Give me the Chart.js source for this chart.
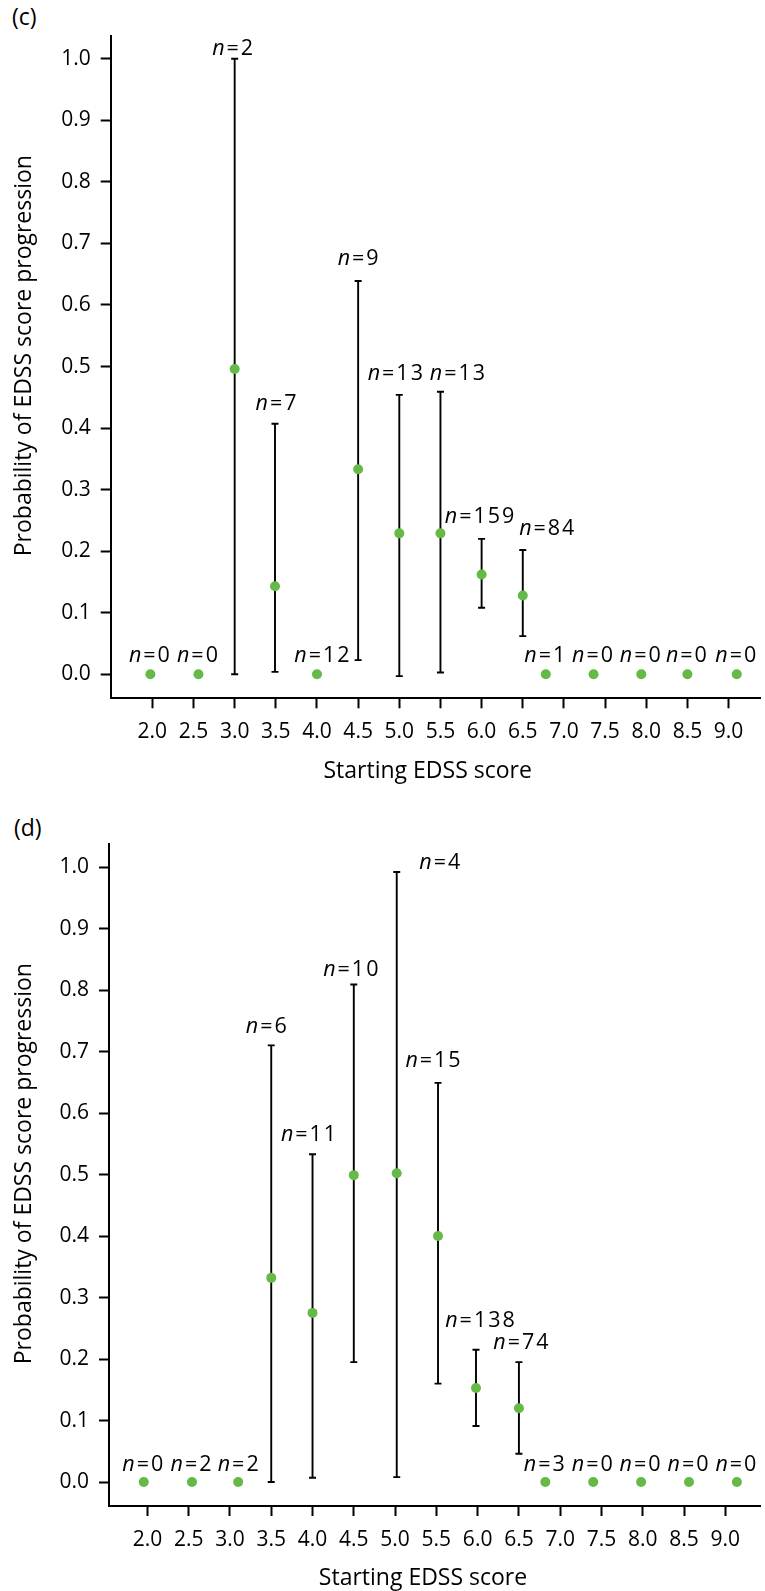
<!DOCTYPE html>
<html>
<head>
<meta charset="utf-8">
<script src="https://cdn.jsdelivr.net/npm/chart.js@4.4.1/dist/chart.umd.min.js"></script>
<style>
  html, body { margin: 0; padding: 0; background: #fff; }
  body { width: 765px; height: 1591px; overflow: hidden; position: relative; font-family: 'Open Sans', sans-serif; }
  canvas { position: absolute; left: 0; }
  #chartC { top: 0; }
  #chartD { top: 800px; }
  .panel { position: absolute; font-size: 23px; line-height: 23px; color: #000; }
</style>
</head>
<body>
<div class="panel" style="left:12px;top:5px">(c)</div>
<div class="panel" style="left:14px;top:816px">(d)</div>
<canvas id="chartC" width="765" height="800"></canvas>
<canvas id="chartD" width="765" height="800"></canvas>
<script>
// Marcas de los ejes
const xTicks = [2.0, 2.5, 3.0, 3.5, 4.0, 4.5, 5.0, 5.5, 6.0, 6.5, 7.0, 7.5, 8.0, 8.5, 9.0];
const yTicks = [0.0, 0.1, 0.2, 0.3, 0.4, 0.5, 0.6, 0.7, 0.8, 0.9, 1.0];

// Panel (c): posición de cada punto, probabilidad, IC y n
const xC = [1.976, 2.56, 3.0, 3.49, 4.0, 4.5, 5.0, 5.5, 6.0, 6.5, 6.78, 7.36, 7.94, 8.5, 9.1];
const probC = [0, 0, 0.496, 0.143, 0, 0.333, 0.229, 0.229, 0.162, 0.128, 0, 0, 0, 0, 0];
const loC = [null, null, 0, 0.004, null, 0.023, -0.003, 0.003, 0.108, 0.062, null, null, null, null, null];
const hiC = [null, null, 1.0, 0.407, null, 0.639, 0.454, 0.459, 0.22, 0.202, null, null, null, null, null];
const nC = [0, 0, 2, 7, 12, 9, 13, 13, 159, 84, 1, 0, 0, 0, 0];

// Panel (d)
const xD = [1.956, 2.54, 3.1, 3.5, 4.0, 4.5, 5.02, 5.52, 5.98, 6.5, 6.82, 7.4, 7.98, 8.56, 9.14];
const probD = [0, 0, 0, 0.332, 0.275, 0.499, 0.502, 0.4, 0.153, 0.12, 0, 0, 0, 0, 0];
const loD = [null, null, null, 0, 0.007, 0.195, 0.008, 0.16, 0.091, 0.046, null, null, null, null, null];
const hiD = [null, null, null, 0.71, 0.533, 0.809, 0.992, 0.649, 0.215, 0.195, null, null, null, null, null];
const nD = [0, 2, 2, 6, 11, 10, 4, 15, 138, 74, 3, 0, 0, 0, 0];

// desplazamiento de las etiquetas n= (px): [dx, separación sobre el extremo superior]
const shiftC = [[-1,12],[-1,12],[-2,4],[1,14],[5,12],[0,16],[-4,15],[17,12],[-2,16],[24,15],[-1,12],[-1,12],[-1,12],[-1,12],[-1,12]];
const shiftD = [[-1,11],[-1,11],[0,11],[-5,12],[-4,13],[-3,9],[43,3],[-5,16],[4,23],[2,13],[-1,11],[-1,11],[-1,11],[-1,11],[-1,11]];

const verde = '#64b947';
const fuenteN = 21.5;
const espacio = 2;
Chart.defaults.font.family = "'Open Sans', sans-serif";
Chart.defaults.color = '#000';

function barrasYEtiquetas(xs, lo, hi, ns, shift) {
  return {
    id: 'barras',
    beforeDatasetsDraw(chart) {
      const {ctx, scales: {x, y}} = chart;
      ctx.save();
      ctx.strokeStyle = '#000';
      ctx.lineWidth = 1.9;
      xs.forEach((v, i) => {
        if (lo[i] === null) return;
        const px = x.getPixelForValue(v);
        const y1 = y.getPixelForValue(lo[i]);
        const y2 = y.getPixelForValue(hi[i]);
        ctx.beginPath();
        ctx.moveTo(px, y1); ctx.lineTo(px, y2);
        ctx.moveTo(px - 3.5, y1); ctx.lineTo(px + 3.5, y1);
        ctx.moveTo(px - 3.5, y2); ctx.lineTo(px + 3.5, y2);
        ctx.stroke();
      });
      ctx.restore();
    },
    afterDatasetsDraw(chart) {
      const {ctx, scales: {x, y}} = chart;
      const data = chart.data.datasets[0].data;
      ctx.save();
      ctx.fillStyle = '#000';
      ctx.textBaseline = 'alphabetic';
      ctx.textAlign = 'left';
      xs.forEach((v, i) => {
        const tope = hi[i] !== null ? hi[i] : data[i].y;
        const px = x.getPixelForValue(v) + shift[i][0];
        const py = y.getPixelForValue(tope) - shift[i][1];
        ctx.font = `italic ${fuenteN}px 'Open Sans'`;
        ctx.letterSpacing = '0px';
        const wN = ctx.measureText('n').width;
        ctx.font = `${fuenteN}px 'Open Sans'`;
        ctx.letterSpacing = espacio + 'px';
        const resto = '=' + ns[i];
        const wR = ctx.measureText(resto).width - espacio;
        const x0 = px - (wN + espacio + wR) / 2;
        ctx.letterSpacing = '0px';
        ctx.font = `italic ${fuenteN}px 'Open Sans'`;
        ctx.fillText('n', x0, py);
        ctx.font = `${fuenteN}px 'Open Sans'`;
        ctx.letterSpacing = espacio + 'px';
        ctx.fillText(resto, x0 + wN + espacio, py);
      });
      ctx.restore();
    }
  };
}

function grafica(id, xs, prob, lo, hi, ns, shift, cfg) {
  const ctx = document.getElementById(id).getContext('2d');
  return new Chart(ctx, {
    type: 'scatter',
    data: {
      datasets: [{
        data: xs.map((v, i) => ({x: v, y: prob[i]})),
        backgroundColor: verde,
        borderWidth: 0,
        pointRadius: 5,
        pointHoverRadius: 5
      }]
    },
    options: {
      responsive: false,
      animation: false,
      devicePixelRatio: 1,
      layout: {padding: {top: cfg.top, left: 0, right: 0, bottom: 0}},
      plugins: {legend: {display: false}, tooltip: {enabled: false}},
      scales: {
        x: {
          type: 'linear',
          min: cfg.xmin,
          max: cfg.xmax,
          afterBuildTicks: s => { s.ticks = xTicks.map(v => ({value: v})); },
          afterFit: s => { s.height = cfg.xh; },
          ticks: {autoSkip: false, maxRotation: 0, padding: 11, font: {size: 21}, callback: v => v.toFixed(1)},
          grid: {drawOnChartArea: false, drawTicks: true, tickLength: 10, tickWidth: 2, color: '#000'},
          border: {display: true, color: '#000', width: 2},
          title: {display: true, text: 'Starting EDSS score' + cfg.xcola, font: {size: 23}, padding: {top: 0, bottom: cfg.xtp}}
        },
        y: {
          min: -0.039,
          max: 1.037,
          afterBuildTicks: s => { s.ticks = yTicks.map(v => ({value: v})); },
          afterFit: s => { s.width = cfg.yw; },
          ticks: {padding: 10, font: {size: 21}, callback: v => v.toFixed(1)},
          grid: {drawOnChartArea: false, drawTicks: true, tickLength: 10, tickWidth: 2, color: '#000'},
          border: {display: true, color: '#000', width: 2},
          title: {display: true, text: '\u2003Probability of EDSS score progression', font: {size: 23}, padding: {top: 10.6, bottom: 0}}
        }
      }
    },
    plugins: [barrasYEtiquetas(xs, lo, hi, ns, shift)]
  });
}

grafica('chartC', xC, probC, loC, hiC, nC, shiftC, {top: 36, xh: 101.7, yw: 110.7, xmin: 1.494, xmax: 9.382, xtp: 15.1, xcola: '\u2002\u2009'});
grafica('chartD', xD, probD, loD, hiD, nD, shiftD, {top: 44.3, xh: 94, yw: 109, xmin: 1.535, xmax: 9.42, xtp: 7.8, xcola: '\u2003'});
</script>
</body>
</html>
